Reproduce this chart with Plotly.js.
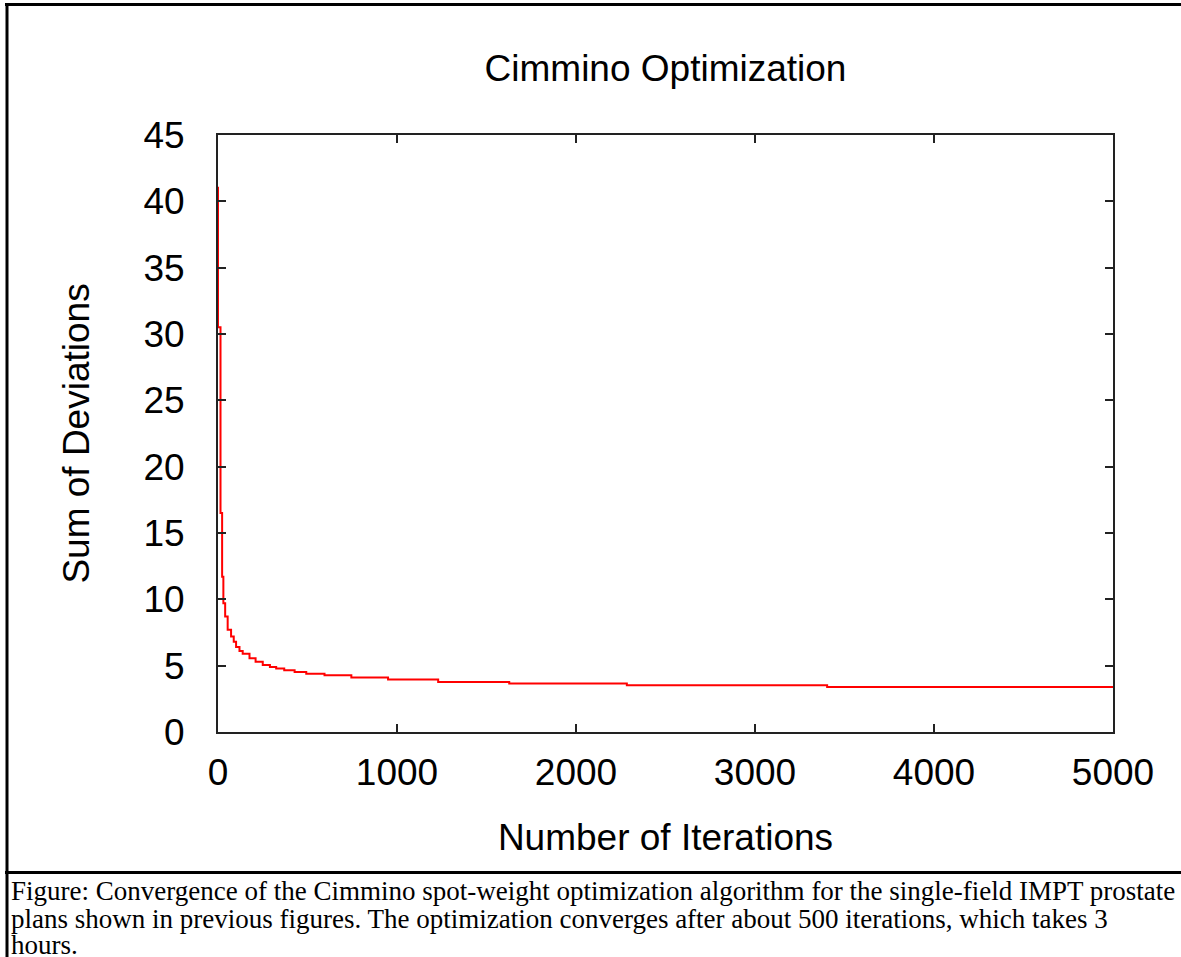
<!DOCTYPE html>
<html>
<head>
<meta charset="utf-8">
<script src="https://cdn.plot.ly/plotly-3.0.1.min.js"></script>
<style>
html,body{margin:0;padding:0;background:#fff;}
#chart{width:1181px;height:957px;}
</style>
</head>
<body>
<div id="chart"></div>
<script>
// ---- data ----
const iterations = [0, 0, 14, 23, 30, 40, 54, 73, 88, 101, 120, 138, 176, 210, 250, 290, 325, 370, 428, 493, 595, 745, 950, 1230, 1627, 2284, 3403, 5000];
const deviations = [41.1, 30.5, 16.5, 11.7, 9.7, 8.7, 7.7, 7.2, 6.8, 6.4, 6.1, 5.9, 5.55, 5.3, 5.05, 4.9, 4.78, 4.65, 4.52, 4.40, 4.28, 4.10, 3.95, 3.77, 3.65, 3.52, 3.39, 3.39];
const xTicks = [0, 1000, 2000, 3000, 4000, 5000];
const yTicks = [0, 5, 10, 15, 20, 25, 30, 35, 40, 45];
const chartTitle = "Cimmino Optimization";
const xTitle = "Number of Iterations";
const yTitle = "Sum of Deviations";
const captionLines = [
  "Figure: Convergence of the Cimmino spot-weight optimization algorithm for the single-field IMPT prostate",
  "plans shown in previous figures. The optimization converges after about 500 iterations, which takes 3",
  "hours."
];

// ---- layout geometry ----
const W = 1181, H = 957;
const L = 218, R = 68, T = 135, B = 225;
const PW = W - L - R, PH = H - T - B;
const px2x = px => (px - L) / PW;
const py2y = py => (H - B - py) / PH;

const sans = "Liberation Sans, Arial, sans-serif";
const serif = "Liberation Serif, Times New Roman, serif";
const axisCol = "#222";

const trace = {
  x: iterations, y: deviations, type: "scatter", mode: "lines",
  line: {color: "#ff0000", width: 2, shape: "hv"},
  hoverinfo: "skip", showlegend: false
};

const shapes = [
  {type: "line", xref: "paper", yref: "paper", x0: px2x(5), x1: px2x(1185), y0: py2y(4.5), y1: py2y(4.5), line: {color: "#000", width: 3}},
  {type: "line", xref: "paper", yref: "paper", x0: px2x(7), x1: px2x(7), y0: py2y(3), y1: py2y(960), line: {color: "#000", width: 3}},
  {type: "line", xref: "paper", yref: "paper", x0: px2x(5), x1: px2x(1185), y0: py2y(872.5), y1: py2y(872.5), line: {color: "#000", width: 3}}
];

const capY = [891, 919, 945];
const annotations = captionLines.map((t, i) => ({
  text: t, xref: "paper", yref: "paper", x: px2x(9), y: py2y(capY[i]),
  xanchor: "left", yanchor: "middle", showarrow: false,
  font: {family: serif, size: 27, color: "#000"}
}));

const layout = {
  width: W, height: H,
  margin: {l: L, r: R, t: T, b: B, pad: 0},
  paper_bgcolor: "#fff", plot_bgcolor: "#fff",
  title: {text: chartTitle, font: {family: sans, size: 37, color: "#000"},
          x: 0.5, xref: "paper", y: 1 - 68 / H, yref: "container", yanchor: "middle"},
  xaxis: {
    range: [0, 5000], tickvals: xTicks, ticktext: xTicks.map(String),
    showgrid: false, zeroline: false, showline: true, mirror: "ticks",
    linecolor: axisCol, linewidth: 2, ticks: "inside", ticklen: 8, tickwidth: 2, tickcolor: axisCol,
    tickfont: {family: sans, size: 37, color: "#000"}, ticklabelstandoff: 7,
    title: {text: xTitle, font: {family: sans, size: 37, color: "#000"}, standoff: 32},
    automargin: false
  },
  yaxis: {
    range: [0, 45], tickvals: yTicks, ticktext: yTicks.map(String),
    showgrid: false, zeroline: false, showline: true, mirror: "ticks",
    linecolor: axisCol, linewidth: 2, ticks: "inside", ticklen: 8, tickwidth: 2, tickcolor: axisCol,
    tickfont: {family: sans, size: 37, color: "#000"}, ticklabelstandoff: 24,
    title: {text: yTitle, font: {family: sans, size: 37, color: "#000"}, standoff: 42},
    automargin: false
  },
  shapes: shapes,
  annotations: annotations
};

Plotly.newPlot("chart", [trace], layout, {displayModeBar: false, staticPlot: true});
</script>
</body>
</html>
